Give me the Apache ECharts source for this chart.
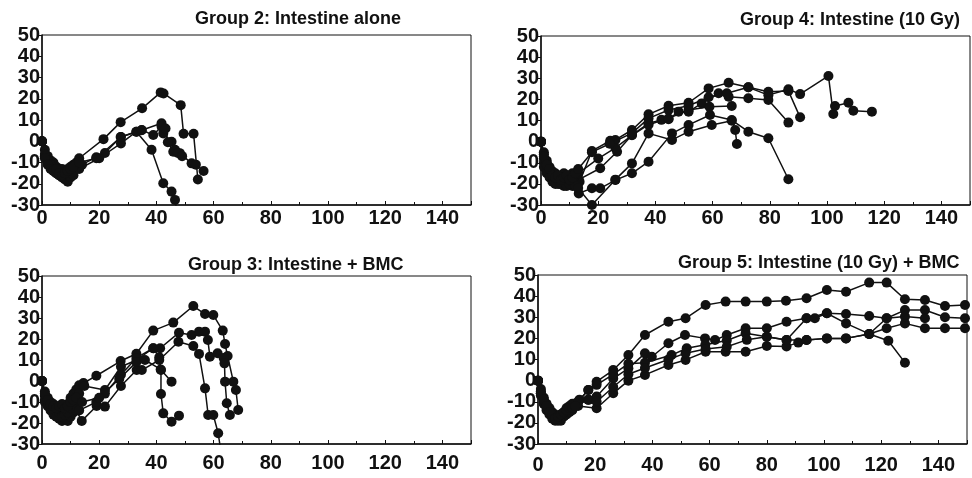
<!DOCTYPE html>
<html>
<head>
<meta charset="utf-8">
<script src="https://cdn.jsdelivr.net/npm/echarts@6/dist/echarts.min.js"></script>
<style>
html,body{margin:0;padding:0;background:#fff;}
#c{width:972px;height:478px;}
</style>
</head>
<body>
<div id="c"></div>
<script>
// Panel titles
const titles = ["Group 2: Intestine alone", "Group 4: Intestine (10 Gy)", "Group 3: Intestine + BMC", "Group 5: Intestine (10 Gy) + BMC"];
// Axis ticks
const xTicks = [0, 20, 40, 60, 80, 100, 120, 140];
const yTicks = [-30, -20, -10, 0, 10, 20, 30, 40, 50];

// Group 2 (panel 0)
const g2_s1 = [[0,0],[1,-4],[2,-7],[3,-9],[4,-10],[5,-12],[6,-13],[7,-13],[8,-14],[9,-13],[10,-12],[11,-11],[12,-10],[13,-8],[21.5,1],[27.5,9],[35,15.5],[41.5,23],[42.5,22.5],[48.5,17],[49.5,3.5],[53,3.5],[54.5,-18]];
const g2_s2 = [[0,0],[1,-7],[2,-10],[3,-12],[4,-14],[5,-15],[6,-16],[7,-15],[8,-16],[9,-17],[10,-16],[11,-14],[12,-13],[14,-11],[19,-7.5],[22,-5.5],[27.5,2],[33,4.5],[34.8,5.2],[41.8,8.5],[42.4,3.7],[45.3,-0.2],[46.5,-4],[48.2,-5.6],[52.3,-10.4],[53.8,-11],[56.5,-14]];
const g2_s3 = [[0,0],[1,-6],[2,-9],[3,-11],[4,-13],[5,-15],[6,-16],[7,-17],[8,-18],[9,-19],[10,-17],[11,-16],[13,-13],[20,-8],[27.6,-1],[33,4.5],[38.3,-4],[42.4,-19.8],[45.3,-23.7],[46.5,-27.6],[47.2,-33]];
const g2_s4 = [[0,0],[1,-8],[2,-11],[3,-13],[4,-14],[5,-13],[6,-15],[7,-16],[8,-15],[9,-14],[10,-13],[11,-12],[13,-10],[19,-8],[27.6,2],[34.9,5.3],[38.9,2.9],[41.8,7],[43.2,6],[44,-0.5],[45.9,-4.9],[47.5,-5.5],[49,-7]];

// Group 4 (panel 1)
const g4_a = [[0,0],[1,-6],[2,-10],[3,-13],[4,-15],[5,-16],[6,-17],[7,-18],[8,-17],[9,-18],[10,-16],[11,-17],[12,-18],[13.5,-19],[17.8,-4.4],[24.2,0.4],[26,0.8],[31.8,5.5],[37.6,12.9],[44.6,17],[51.6,18.4],[58.6,25.2],[65.6,27.9],[72.5,25.7],[79.5,22],[86.5,24.8],[90.6,22.5],[100.5,31.1],[102.2,13.1],[102.8,16.9],[107.5,18.4],[109.2,14.6],[115.7,14.2]];
const g4_b = [[0,0],[1,-8],[2,-12],[3,-14],[4,-16],[5,-18],[6,-19],[7,-20],[8,-18],[9,-19],[10,-20],[11,-18],[12,-17],[13.2,-18],[20.7,-12.6],[26.6,-4.8],[31.8,3.1],[37.6,8.7],[42.1,10.3],[44.6,10.6],[48.1,14.2],[51.6,14.2],[56.2,18.1],[62.1,22.9],[65.6,21.3],[72.5,20.5],[79.5,19.7],[86.5,9]];
const g4_c = [[0,0],[1,-10],[2,-14],[3,-16],[4,-17],[5,-19],[6,-20],[7,-19],[8,-21],[9,-20],[10,-19],[11,-21],[12,-20],[13.2,-24.5],[17.8,-22.1],[20.7,-22.1],[26,-18.2],[31.8,-15],[37.6,-9.5],[45.8,3.9],[51.6,7.9],[59.1,12.6],[66.7,10.2],[72.5,4.7],[79.5,1.6],[86.5,-17.8]];
const g4_d = [[0,0],[1,-12],[2,-15],[3,-17],[4,-19],[5,-20],[6,-18],[7,-20],[8,-19],[9,-21],[10,-20],[11,-19],[12,-21],[13,-22],[17.8,-30],[26,-18],[31.8,-10.3],[37.6,3.9],[45.8,0.8],[51.6,4.7],[59.7,7.9],[66.7,9.9],[67.9,5.5],[68.5,-1.1]];
const g4_e = [[0,0],[1,-5],[2,-9],[3,-12],[4,-14],[5,-15],[6,-17],[7,-16],[8,-15],[9,-17],[10,-16],[11,-15],[12,-16],[13,-15],[20,-8],[26,-3],[31.8,3],[37.6,8],[44.6,11],[51.6,15],[58.9,16.5],[66.7,16.9]];
const g4_f = [[0,0],[1,-7],[2,-11],[3,-13],[4,-16],[5,-17],[6,-16],[7,-18],[8,-17],[9,-16],[10,-18],[11,-17],[12,-15],[13,-13],[17.8,-5],[24,-1],[31.8,4],[37.6,11],[44.6,15],[51.6,17],[58.6,21],[65,22.9],[72.5,25.7],[79.5,23.6],[86.5,24],[90.6,11.5]];

// Group 3 (panel 2)
const g3_s1 = [[0,0],[1,-5],[2,-8],[3,-10],[4,-11],[5,-12],[6,-13],[7,-14],[8,-12],[9,-11],[10,-8],[11,-6],[12,-4],[13,-2],[14.5,-1],[19,2.5],[27.5,9.5],[33,13],[38.9,24],[45.9,27.8],[52.9,35.7],[57,31.9],[59.9,31.4],[63.2,24],[64,17.6],[64.9,11.9],[66.9,-0.3],[67.8,-4.3],[68.6,-13.8]];
const g3_s2 = [[0,0],[1,-7],[2,-10],[3,-12],[4,-13],[5,-15],[6,-16],[7,-15],[8,-17],[9,-16],[10,-14],[11,-12],[12,-10],[13,-6],[14.8,-2.4],[22,-4.3],[27.6,6.8],[33.1,10],[38.9,15.6],[41.3,15.6],[47.9,23],[52.3,21.9],[54.9,23.5],[57,23.5],[58,19.5],[58.7,11.6],[61.4,13.2],[63.5,11],[63.8,8.4],[64,-0.3],[64.6,-10.6],[65.7,-16.2]];
const g3_s3 = [[0,0],[1,-9],[2,-11],[3,-13],[4,-15],[5,-16],[6,-18],[7,-19],[8,-18],[9,-19],[10,-17],[11,-15],[12,-14],[13.9,-19],[19.1,-11.9],[22,-12.2],[27.6,-2.4],[33.1,5.2],[34.9,5.2],[41,10],[47.7,18.7],[52.9,16.7],[54.9,12.9],[57,-3.5],[58.1,-16.2],[59.9,-16.2],[61.6,-24.9],[62.5,-33]];
const g3_s4 = [[0,0],[1,-10],[2,-12],[3,-14],[4,-16],[5,-17],[6,-15],[7,-17],[8,-16],[9,-15],[10,-13],[11,-11],[12,-12],[13,-14],[19,-10],[22,-6],[27.6,3],[33,11],[38.9,15.6],[41,11.3],[41.6,5.2],[41.6,-6.2],[42.4,-15.4],[45.3,-19.4],[47.9,-16.5]];
const g3_s5 = [[0,0],[1,-6],[2,-9],[3,-11],[4,-12],[5,-13],[6,-12],[7,-11],[8,-13],[9,-12],[10,-10],[11,-9],[12,-8],[14,-10],[20,-8],[27,1],[33,9],[36,10],[41.5,5.5],[45.3,-0.3]];

// Group 5 (panel 3)
const g5_t = [[0,0],[1,-5],[2,-9],[3,-12],[4,-14],[5,-16],[6,-17],[7,-18],[8,-17],[9,-16],[10,-14],[11,-13],[12,-12],[13,-11],[14.5,-9],[17.6,-4.4],[20.5,-0.5],[26.3,5],[31.6,12.1],[37.4,21.6],[45.6,27.9],[51.6,29.5],[58.6,35.8],[65.6,37.4],[72.6,37.4],[80,37.4],[86.7,37.8],[93.9,39],[101,42.9],[107.7,42.1],[115.8,46.4],[121.9,46.4],[128.3,38.5],[135.3,38.2],[142.3,35.3],[149.3,35.8]];
const g5_b = [[0,0],[1,-6],[2,-10],[3,-13],[4,-15],[5,-17],[6,-18],[7,-19],[8,-18],[9,-17],[10,-15],[11,-14],[12,-12],[13,-11],[17.6,-9.1],[20.5,-7.5],[26.3,1],[31.6,5.8],[37.4,12.9],[39.8,11.3],[45.6,17.7],[51.4,21.6],[58.4,20],[61.9,19.2],[66,21.6],[72.6,24.8],[80,24.8],[86.9,27.9],[93.9,29.5],[101,31.9],[107.7,27.1],[115.8,22.1],[122.5,18.9],[128.3,8.5]];
const g5_c = [[0,0],[1,-7],[2,-11],[3,-14],[4,-16],[5,-18],[6,-19],[7,-18],[8,-19],[9,-17],[10,-16],[11,-15],[12,-14],[14,-12],[20.5,-13.1],[26.3,-6],[31.6,0],[37.4,2.7],[45.6,7.4],[51.6,9.8],[58.6,13.7],[65.6,13.7],[72.6,13.7],[80,16.4],[86.9,16.2],[91,18],[93.9,19.2],[101,20],[107.7,20],[115.8,22.1],[121.9,24.8],[128.3,27.1],[135.3,24.8],[142.3,24.8],[149.3,24.8]];
const g5_d = [[0,0],[1,-4],[2,-8],[3,-11],[4,-13],[5,-15],[6,-16],[7,-17],[8,-16],[9,-15],[10,-13],[11,-12],[12,-11],[14,-10],[17.6,-4.4],[20.5,-2],[26.3,3],[31.6,8],[37.4,8.5],[46.7,12.1],[52,15.3],[58.5,17],[66,19],[72.6,22.4],[80,20.8],[86.9,19.2],[93.9,29.5],[96.8,29.5],[101,31.9],[107.7,31.5],[115.8,30.6],[121.9,29.5],[128.3,33.4],[135.3,33.4],[142.3,30],[149.3,29.5]];
const g5_e = [[0,0],[1,-6],[2,-9],[3,-12],[4,-15],[5,-16],[6,-18],[7,-17],[8,-16],[9,-15],[10,-14],[11,-13],[12,-13],[13,-12],[17.6,-9],[20.5,-10],[26.3,-3],[31.6,3],[37.4,6],[45.6,10],[51.6,13],[58.6,15],[66,16],[73,19.3],[80,20.8],[86.9,19.2],[93.9,19.2],[101,20],[107.7,20],[115.8,22.1],[121.9,29.5],[128.3,30.3],[135.3,29.5]];

const panels = [
  [g2_s1, g2_s2, g2_s3, g2_s4],
  [g4_a, g4_b, g4_c, g4_d, g4_e, g4_f],
  [g3_s1, g3_s2, g3_s3, g3_s4, g3_s5],
  [g5_t, g5_b, g5_c, g5_d, g5_e]
];

const FONT = '"Liberation Sans", Arial, Helvetica, sans-serif';
const grids = [
  {left: 42, top: 35, width: 429, height: 170},
  {left: 541, top: 36, width: 429, height: 169},
  {left: 42, top: 276, width: 429, height: 168},
  {left: 538, top: 275, width: 429, height: 169}
];
const titlePos = [
  {left: 190, top: 5},
  {left: 735, top: 6},
  {left: 183, top: 251},
  {left: 673, top: 249}
];
const xLabelMargin = [3, 3, 9, 11];

const option = {
  animation: false,
  backgroundColor: '#fff',
  title: titles.map((t, i) => ({
    text: t, left: titlePos[i].left, top: titlePos[i].top,
    textStyle: {fontFamily: FONT, fontWeight: 'bold', fontSize: 18, color: '#111'}
  })),
  grid: grids.map(g => Object.assign({show: true, borderColor: '#111', borderWidth: 1, backgroundColor: 'transparent'}, g)),
  xAxis: grids.map((g, i) => ({
    type: 'value', gridIndex: i, min: xTicks[0], max: 150, interval: xTicks[1] - xTicks[0],
    axisLine: {show: true, onZero: false, lineStyle: {color: '#111', width: 1.5}},
    axisTick: {show: true, inside: true, length: 4, lineStyle: {color: '#111'}},
    minorTick: {show: true, splitNumber: 2, length: 3, lineStyle: {color: '#111'}},
    splitLine: {show: false},
    axisLabel: {showMaxLabel: false, margin: xLabelMargin[i], color: '#111', fontFamily: FONT, fontWeight: 'bold', fontSize: 20}
  })),
  yAxis: grids.map((g, i) => ({
    type: 'value', gridIndex: i, min: yTicks[0], max: yTicks[yTicks.length - 1], interval: yTicks[1] - yTicks[0],
    axisLine: {show: true, onZero: false, lineStyle: {color: '#111', width: 1.5}},
    axisTick: {show: true, inside: false, length: 3, lineStyle: {color: '#111'}},
    splitLine: {show: false},
    axisLabel: {margin: 2, color: '#111', fontFamily: FONT, fontWeight: 'bold', fontSize: 20}
  })),
  series: []
};

panels.forEach((list, pi) => {
  list.forEach(d => {
    option.series.push({
      type: 'line', xAxisIndex: pi, yAxisIndex: pi, data: d, clip: true,
      symbol: 'circle', symbolSize: 10, showSymbol: true,
      lineStyle: {color: '#111', width: 1.5},
      itemStyle: {color: '#111'}
    });
  });
});

const chart = echarts.init(document.getElementById('c'), null, {renderer: 'canvas'});
chart.setOption(option);
</script>
</body>
</html>
